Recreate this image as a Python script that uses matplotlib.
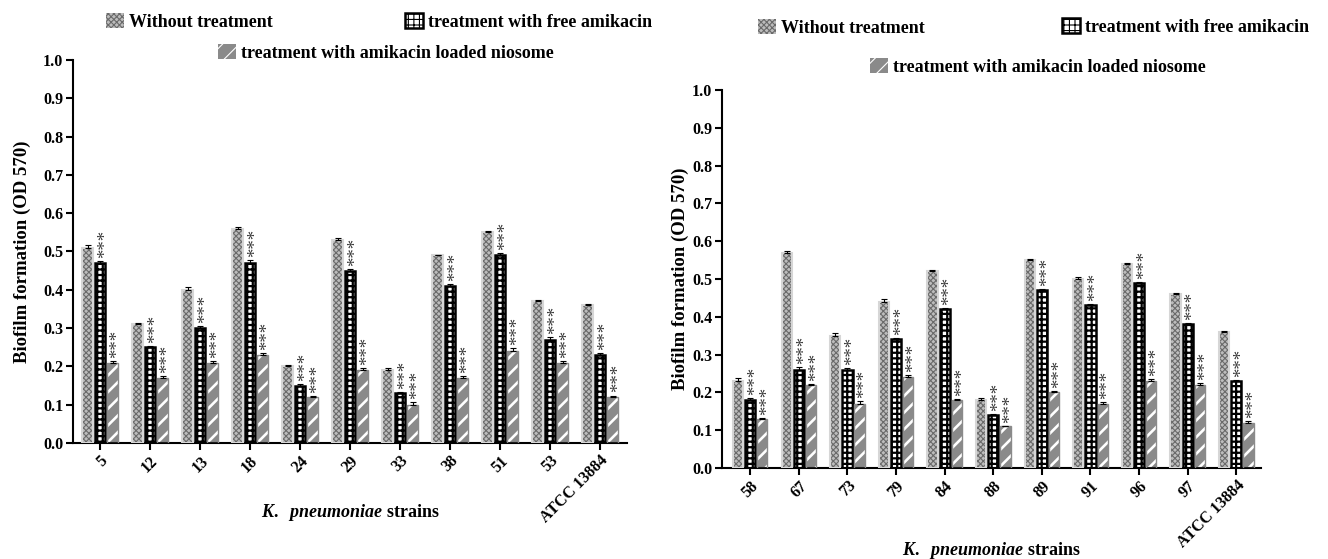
import numpy as np
import matplotlib
matplotlib.use("Agg")
import matplotlib.pyplot as plt
from matplotlib.patches import Patch

plt.rcParams['font.family'] = ['Liberation Serif', 'DejaVu Serif']
plt.rcParams['font.weight'] = 'bold'
plt.rcParams['mathtext.fontset'] = 'custom'
plt.rcParams['mathtext.it'] = 'Liberation Serif:italic:bold'
plt.rcParams['mathtext.rm'] = 'Liberation Serif:bold'
plt.rcParams['hatch.linewidth'] = 0.8

# --- Panel A data (OD 570) ---
strains_a = ["5", "12", "13", "18", "24", "29", "33", "38", "51", "53", "ATCC 13884"]
untreated_a = [0.51, 0.31, 0.40, 0.56, 0.20, 0.53, 0.19, 0.49, 0.55, 0.37, 0.36]
free_a = [0.47, 0.25, 0.30, 0.47, 0.15, 0.45, 0.13, 0.41, 0.49, 0.27, 0.23]
niosome_a = [0.21, 0.17, 0.21, 0.23, 0.12, 0.19, 0.10, 0.17, 0.24, 0.21, 0.12]
err_untreated_a = [0.008, 0.004, 0.006, 0.004, 0.003, 0.006, 0.005, 0.002, 0.004, 0.004, 0.003]
err_free_a = [0.005, 0.002, 0.005, 0.008, 0.003, 0.005, 0.004, 0.005, 0.006, 0.007, 0.005]
err_niosome_a = [0.005, 0.004, 0.004, 0.004, 0.002, 0.005, 0.006, 0.004, 0.008, 0.003, 0.004]

# --- Panel B data (OD 570) ---
strains_b = ["58", "67", "73", "79", "84", "88", "89", "91", "96", "97", "ATCC 13884"]
untreated_b = [0.23, 0.57, 0.35, 0.44, 0.52, 0.18, 0.55, 0.50, 0.54, 0.46, 0.36]
free_b = [0.18, 0.26, 0.26, 0.34, 0.42, 0.14, 0.47, 0.43, 0.49, 0.38, 0.23]
niosome_b = [0.13, 0.22, 0.17, 0.24, 0.18, 0.11, 0.20, 0.17, 0.23, 0.22, 0.12]
err_untreated_b = [0.007, 0.005, 0.007, 0.006, 0.003, 0.005, 0.004, 0.006, 0.003, 0.003, 0.003]
err_free_b = [0.004, 0.008, 0.004, 0.003, 0.003, 0.004, 0.004, 0.003, 0.003, 0.003, 0.004]
err_niosome_b = [0.003, 0.003, 0.007, 0.005, 0.002, 0.002, 0.003, 0.005, 0.006, 0.004, 0.005]

labels = ["Without treatment", "treatment with free amikacin",
          "treatment with amikacin loaded niosome"]

UNT_FACE, UNT_HATCH, UNT_EDGE = "#bdbdbd", "#6a6a6a", "#d6d6d6"
NIO_FACE = "#8a8a8a"
STAR_COLOR = "#3c3c3c"
W = 0.21
OFF = 0.25
CHECK_LW = 1.6
STRIPE_LW = 1.9
STAR_SHIFT = 0.11   # rotated asterisks sit high in the line box -> nudge right


def hatch_width(patches, lw):
    # per-artist hatch line width (if this matplotlib supports it)
    for p in patches:
        if hasattr(p, "set_hatch_linewidth"):
            p.set_hatch_linewidth(lw)


def draw_panel(ax, strains, unt, free, nio, e_unt, e_free, e_nio, xlim, ylabel_x, xlabel_y):
    x = np.arange(len(strains))
    # without treatment: light grey, fine cross-hatch
    ax.bar(x - OFF, unt, W, color=UNT_FACE, edgecolor=UNT_HATCH, hatch="xxxxxx", linewidth=0, zorder=2)
    ax.bar(x - OFF, unt, W, fill=False, edgecolor=UNT_EDGE, linewidth=1.5, zorder=3)
    # free amikacin: black-framed checker
    with plt.rc_context({"hatch.linewidth": CHECK_LW}):
        bars = ax.bar(x, free, W, color="white", edgecolor="black", hatch="+++", linewidth=1.8, zorder=2)
    hatch_width(bars, CHECK_LW)
    # niosome: grey with white diagonals
    with plt.rc_context({"hatch.linewidth": STRIPE_LW}):
        bars = ax.bar(x + OFF, nio, W, color=NIO_FACE, edgecolor="white", hatch="//", linewidth=0, zorder=2)
    hatch_width(bars, STRIPE_LW)
    ax.bar(x + OFF, nio, W, fill=False, edgecolor=NIO_FACE, linewidth=1.0, zorder=3)

    for off, vals, errs in [(-OFF, unt, e_unt), (0, free, e_free), (OFF, nio, e_nio)]:
        ax.errorbar(x + off, vals, yerr=[np.zeros(len(vals)), errs], fmt="none",
                    ecolor="black", elinewidth=0.8, capsize=2, capthick=0.8, zorder=4)

    for off, vals, errs in [(0, free, e_free), (OFF, nio, e_nio)]:
        for xi, v, e in zip(x, vals, errs):
            ax.text(xi + off + STAR_SHIFT, v + e + 0.008, "***", rotation=90, ha="center", va="bottom",
                    fontsize=13.5, color=STAR_COLOR, fontweight="normal")

    ax.set_xlim(*xlim)
    ax.set_ylim(0, 1.0)
    ticks = np.arange(0, 1.01, 0.1)
    ax.set_yticks(ticks)
    ax.set_yticklabels([f"{t:.1f}" for t in ticks], fontsize=11.5, fontweight="bold")
    ax.set_xticks(x)
    ax.set_xticklabels(strains, rotation=45, ha="right", rotation_mode="anchor",
                       fontsize=11.5, fontweight="bold")
    ax.tick_params(axis="both", direction="out", length=5, width=1.5, pad=2)
    for s in ["top", "right"]:
        ax.spines[s].set_visible(False)
    for s in ["left", "bottom"]:
        ax.spines[s].set_linewidth(1.5)
    ax.set_ylabel("Biofilm formation (OD 570)", fontsize=13.5, fontweight="bold")
    ax.yaxis.set_label_coords(ylabel_x, 0.5)
    ax.set_xlabel(r"$K.\ \ pneumoniae$ strains", fontsize=13, fontweight="bold")
    ax.xaxis.set_label_coords(0.5, xlabel_y)


fig = plt.figure(figsize=(13.28, 5.59), dpi=100)
ax1 = fig.add_axes([0.0550, 0.2075, 0.4172, 0.6852])
ax2 = fig.add_axes([0.5437, 0.1628, 0.4059, 0.6762])

draw_panel(ax1, strains_a, untreated_a, free_a, niosome_a,
           err_untreated_a, err_free_a, err_niosome_a, (-0.54, 10.54), -0.075, -0.155)
draw_panel(ax2, strains_b, untreated_b, free_b, niosome_b,
           err_untreated_b, err_free_b, err_niosome_b, (-0.58, 10.51), -0.062, -0.19)

with plt.rc_context({"hatch.linewidth": CHECK_LW}):
    free_handle = Patch(facecolor="white", edgecolor="black", hatch="+++", linewidth=1.8)
hatch_width([free_handle], CHECK_LW)
with plt.rc_context({"hatch.linewidth": STRIPE_LW}):
    nio_handle = Patch(facecolor=NIO_FACE, edgecolor="white", hatch="//", linewidth=0)
hatch_width([nio_handle], STRIPE_LW)
handles = [
    Patch(facecolor=UNT_FACE, edgecolor=UNT_HATCH, hatch="xxxxxx", linewidth=0),
    free_handle,
    nio_handle,
]

# legend entries placed individually (pixel positions -> figure fraction)
legend_pos = [
    (0, 106, 22), (1, 405, 22), (2, 218, 53),
    (0, 758, 28), (1, 1062, 27), (2, 870, 67),
]
for idx, px, py in legend_pos:
    fig.legend(handles=[handles[idx]], labels=[labels[idx]], loc="center left",
               bbox_to_anchor=(px / 1328, 1 - py / 559), frameon=False,
               borderpad=0, borderaxespad=0, handlelength=1.0, handleheight=0.9,
               handletextpad=0.25, prop={"size": 13, "weight": "bold"})

fig.savefig("out.png", dpi=100)
